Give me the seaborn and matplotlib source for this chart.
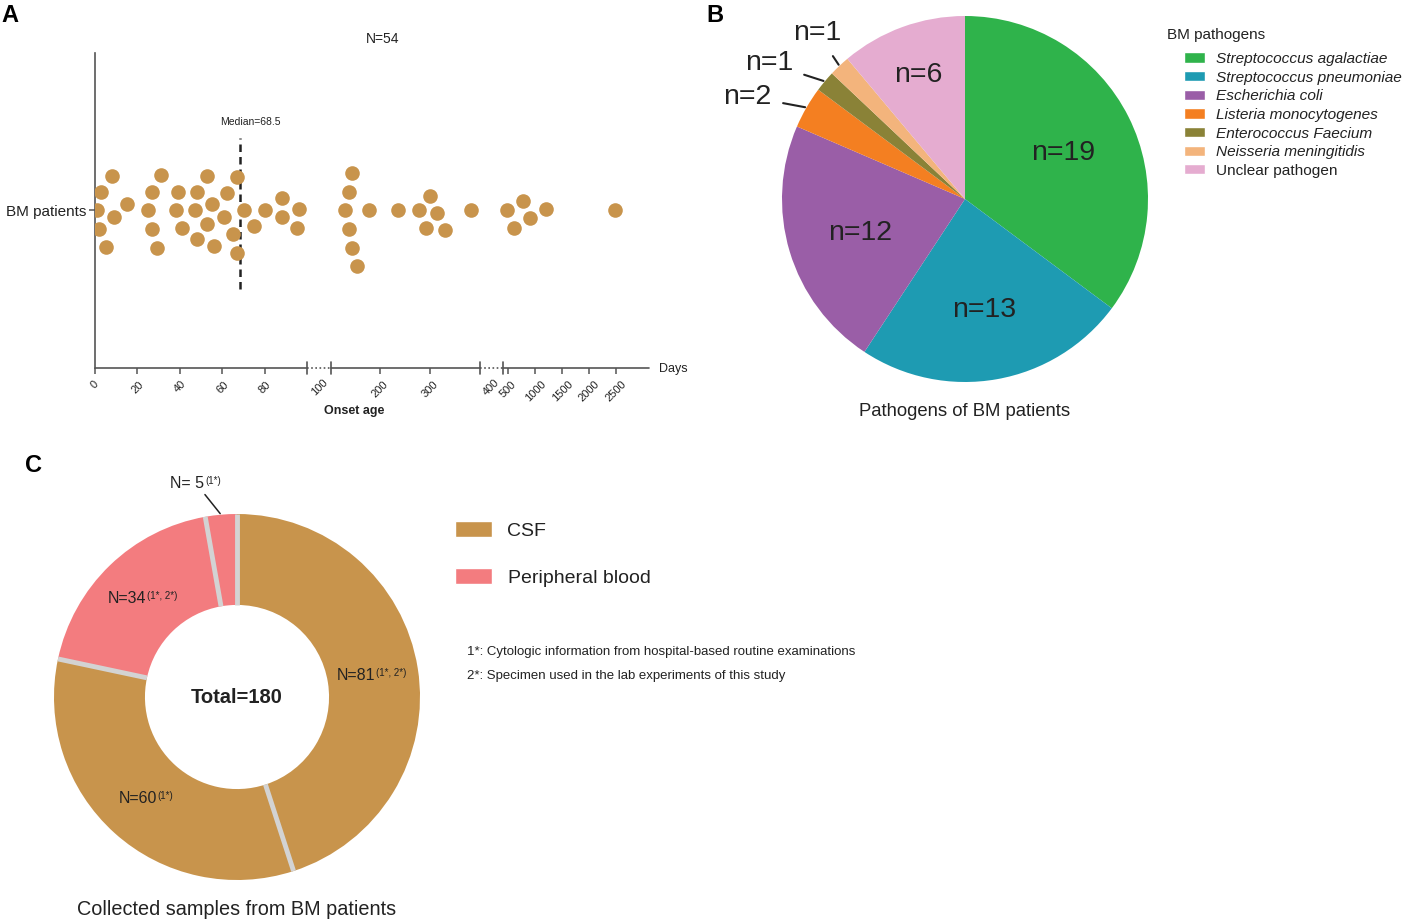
import numpy as np
import pandas as pd
import matplotlib
matplotlib.use("Agg")
import matplotlib.pyplot as plt
from matplotlib.patches import Patch
from matplotlib.offsetbox import TextArea, HPacker, AnnotationBbox
import seaborn as sns

# Panel A: onset age (days) of the BM patients
onset_days = [1, 2, 3, 5, 8, 9, 15, 25, 27, 27, 29, 31, 38, 39, 41, 47, 48, 48,
              53, 53, 55, 56, 61, 62, 65, 67, 67, 70, 75, 80, 88, 88, 95, 96,
              130, 137, 137, 144, 144, 154, 177, 236, 277, 292, 300, 315, 330, 383,
              474, 604, 770, 894, 1191, 2481]
tick_days = [0, 20, 40, 60, 80, 200, 300, 500, 1000, 1500, 2000, 2500]
break_labels = ["100", "400"]

# Panel B: pathogens
pathogens = ["Streptococcus agalactiae", "Streptococcus pneumoniae", "Escherichia coli",
             "Listeria monocytogenes", "Enterococcus Faecium", "Neisseria meningitidis",
             "Unclear pathogen"]
pathogen_n = [19, 13, 12, 2, 1, 1, 6]
pathogen_colors = ["#2fb34b", "#1e9bb2", "#9a5ea7", "#f47f21", "#8a8237", "#f3b47c", "#e5acd0"]

# Panel C: collected samples
sample_types = ["CSF", "CSF", "Peripheral blood", "Peripheral blood"]
sample_n = [81, 60, 34, 5]
sample_notes = ["(1*, 2*)", "(1*)", "(1*, 2*)", "(1*)"]
type_colors = {"CSF": "#c8944c", "Peripheral blood": "#f37c7f"}
footnotes = ["1*: Cytologic information from hospital-based routine examinations",
             "2*: Specimen used in the lab experiments of this study"]

sns.set_theme(style="white")
plt.rcParams["font.family"] = ["Liberation Sans", "DejaVu Sans"]
dark = "#222222"

W, H = 1405, 921
fig = plt.figure(figsize=(W / 100, H / 100), dpi=100)


def rect(x0, y0, x1, y1):
    # pixel box (top-left origin) -> figure fraction
    return [x0 / W, 1 - y1 / H, (x1 - x0) / W, (y1 - y0) / H]


# ---------------- Panel A ----------------
axA = fig.add_axes(rect(95, 53, 649, 368))

# broken axis: three linear pieces with small gaps
knots_days = np.array([-1000, 0, 100, 101, 400, 401, 3110, 1e6])
knots_pos = np.array([-2123, 0, 212.3, 236, 385, 408.3, 554.3, 554.3 + (1e6 - 3110) * 0.0538])


def fwd(x):
    return np.interp(x, knots_days, knots_pos)


def inv(p):
    return np.interp(p, knots_pos, knots_days)


axA.set_xscale("function", functions=(fwd, inv))
dfA = pd.DataFrame({"days": onset_days, "group": "BM patients"})
# transparent edge widens the swarm spacing a bit
sns.swarmplot(data=dfA, x="days", y="group", color="#c8944c", size=10.5,
              linewidth=2.6, edgecolor=(1, 1, 1, 0), ax=axA)
axA.set_xlim(0, 3110)
axA.set_ylim(1, -1)
axA.set_xlabel("")
axA.set_ylabel("")

for s in ["top", "right", "bottom"]:
    axA.spines[s].set_visible(False)
axA.spines["left"].set_color("#555555")
axA.spines["left"].set_linewidth(1.2)

trans = axA.get_xaxis_transform()
ax_col = "#555555"
for a, b in [(0, 100), (101, 400), (401, 3110)]:
    axA.plot([a, b], [0, 0], transform=trans, color=ax_col, lw=1.2, clip_on=False)
for a, b in [(100, 101), (400, 401)]:
    axA.plot([a, b], [0, 0], transform=trans, color=ax_col, lw=1.2, ls=(0, (1, 1.5)),
             clip_on=False)
for x in [100, 101, 400, 401]:
    axA.plot([x, x], [-0.02, 0.02], transform=trans, color=ax_col, lw=1.2, clip_on=False)

axA.set_xticks(tick_days)
axA.set_xticklabels([str(t) for t in tick_days])
axA.set_xticks([100.5, 400.5], minor=True)
axA.set_xticklabels(break_labels, minor=True)
axA.tick_params(axis="x", which="major", bottom=True, length=4, width=1.1, color=ax_col,
                labelsize=8, labelcolor=dark, pad=4)
axA.tick_params(axis="x", which="minor", bottom=True, length=0, labelsize=8,
                labelcolor=dark, pad=7)
for lab in axA.get_xticklabels(which="both"):
    lab.set_rotation(45)
    lab.set_ha("center")
    lab.set_va("top")
axA.tick_params(axis="y", left=True, length=4, width=1.1, color=ax_col,
                labelsize=11, labelcolor=dark, pad=2)

med = np.median(onset_days)
axA.plot([med, med], [0.25, 0.73], transform=trans, color=dark, lw=1.8, ls=(0, (3, 2)))
axA.annotate(f"Median={med:g}", xy=(med, 0.78), xycoords=trans, xytext=(7, 0),
             textcoords="offset points", ha="center", va="center", fontsize=7.5, color=dark)
axA.text(0.52, 1.045, f"N={len(onset_days)}", transform=axA.transAxes, ha="center",
         va="center", fontsize=10, color=dark)
axA.text(1.018, -0.003, "Days", transform=axA.transAxes, ha="left", va="center",
         fontsize=9, color=dark)
axA.text(0.4675, -0.137, "Onset age", transform=axA.transAxes, ha="center", va="center",
         fontsize=9, fontweight="bold", color=dark)

# ---------------- Panel B ----------------
axB = fig.add_axes(rect(782, 16, 1148, 382))
wedgesB, _ = axB.pie(pathogen_n, colors=pathogen_colors, startangle=90,
                     counterclock=False, wedgeprops=dict(linewidth=0))
axB.set_xlim(-1, 1)
axB.set_ylim(-1, 1)
axB.set_aspect("equal")
# text offsets (pixels) of the outside labels for the small slices
outside_offsets = {3: (-59, 11), 4: (-56, 18), 5: (-22, 33)}
for i, (w, n) in enumerate(zip(wedgesB, pathogen_n)):
    mid = np.deg2rad((w.theta1 + w.theta2) / 2)
    if i in outside_offsets:
        axB.annotate(f"n={n}", xy=(np.cos(mid), np.sin(mid)),
                     xytext=outside_offsets[i], textcoords="offset pixels",
                     ha="center", va="center", fontsize=20.5, color=dark,
                     annotation_clip=False,
                     arrowprops=dict(arrowstyle="-", color=dark, lw=1.5,
                                     shrinkA=6, shrinkB=1))
    else:
        r = 0.6 if n >= 10 else 0.74
        axB.text(r * np.cos(mid), r * np.sin(mid), f"n={n}", ha="center",
                 va="center_baseline", fontsize=20.5, color=dark)
axB.text(0, -1.16, "Pathogens of BM patients", ha="center", va="center",
         fontsize=13.3, color=dark)

fig.text(1167 / W, 1 - 35 / H, "BM pathogens", ha="left", va="center",
         fontsize=11, color=dark)
legB = fig.legend([Patch(facecolor=c) for c in pathogen_colors], pathogens,
                  loc="upper left", bbox_to_anchor=(1184 / W, 1 - 52 / H),
                  frameon=False, fontsize=11.1, handlelength=1.35,
                  handleheight=0.65, labelspacing=0.3, handletextpad=0.75,
                  borderpad=0, borderaxespad=0)
for t, name in zip(legB.get_texts(), pathogens):
    t.set_color(dark)
    if name != "Unclear pathogen":
        t.set_style("italic")

# ---------------- Panel C ----------------
axC = fig.add_axes(rect(54, 514, 420, 880))
colorsC = [type_colors[t] for t in sample_types]
r_in = 1 - 0.497
wedgesC, _ = axC.pie(sample_n, colors=colorsC, startangle=90, counterclock=False,
                     wedgeprops=dict(width=0.497, linewidth=0))
axC.set_xlim(-1, 1)
axC.set_ylim(-1, 1)
axC.set_aspect("equal")
for w in wedgesC:
    a = np.deg2rad(w.theta1)
    axC.plot([r_in * np.cos(a), np.cos(a)], [r_in * np.sin(a), np.sin(a)],
             color="#d3d3d3", lw=3.5, solid_capstyle="butt")


def note_box(main, note):
    main_ta = TextArea(main, textprops=dict(fontsize=11.5, color=dark))
    sup_ta = TextArea(note, textprops=dict(fontsize=7, color=dark))
    return HPacker(children=[main_ta, sup_ta], align="top", pad=0, sep=0.5)


for w, n, note in zip(wedgesC, sample_n, sample_notes):
    mid = np.deg2rad((w.theta1 + w.theta2) / 2)
    if n >= 10:
        pos = (0.745 * np.cos(mid), 0.745 * np.sin(mid))
        axC.add_artist(AnnotationBbox(note_box(f"N={n}", note), pos, frameon=False,
                                      box_alignment=(0.5, 0.5), pad=0,
                                      annotation_clip=False))
    else:
        edge = (np.cos(mid), np.sin(mid))
        tmid = mid + np.deg2rad(6)
        pos = (1.19 * np.cos(tmid), 1.19 * np.sin(tmid))
        axC.add_artist(AnnotationBbox(note_box(f"N= {n}", note), pos, frameon=False,
                                      box_alignment=(0.5, 0.5), pad=0,
                                      annotation_clip=False))
        axC.annotate("", xy=edge, xytext=(1.12 * np.cos(mid + np.deg2rad(4)),
                                          1.12 * np.sin(mid + np.deg2rad(4))),
                     annotation_clip=False,
                     arrowprops=dict(arrowstyle="-", color=dark, lw=1.1,
                                     shrinkA=0, shrinkB=1))
axC.text(0, 0, f"Total={sum(sample_n)}", ha="center", va="center", fontsize=14.5,
         fontweight="bold", color=dark)
axC.text(0, -1.16, "Collected samples from BM patients", ha="center", va="center",
         fontsize=14.3, color=dark)

types = list(pd.unique(pd.Series(sample_types)))
legC = fig.legend([Patch(facecolor=type_colors[t]) for t in types], types,
                  loc="upper left", bbox_to_anchor=(455 / W, 1 - 521 / H),
                  frameon=False, fontsize=14, handlelength=1.9, handleheight=0.9,
                  labelspacing=1.45, handletextpad=0.8, borderpad=0, borderaxespad=0)
for t in legC.get_texts():
    t.set_color(dark)

for i, note in enumerate(footnotes):
    fig.text(467 / W, 1 - (652 + 24 * i) / H, note, ha="left", va="center",
             fontsize=9.5, color=dark)

# panel letters
for letter, (x, y) in zip("ABC", [(10, 15), (715, 15), (33, 465)]):
    fig.text(x / W, 1 - y / H, letter, ha="center", va="center", fontsize=17,
             fontweight="bold", color="black")

fig.savefig("out.png", dpi=100)
